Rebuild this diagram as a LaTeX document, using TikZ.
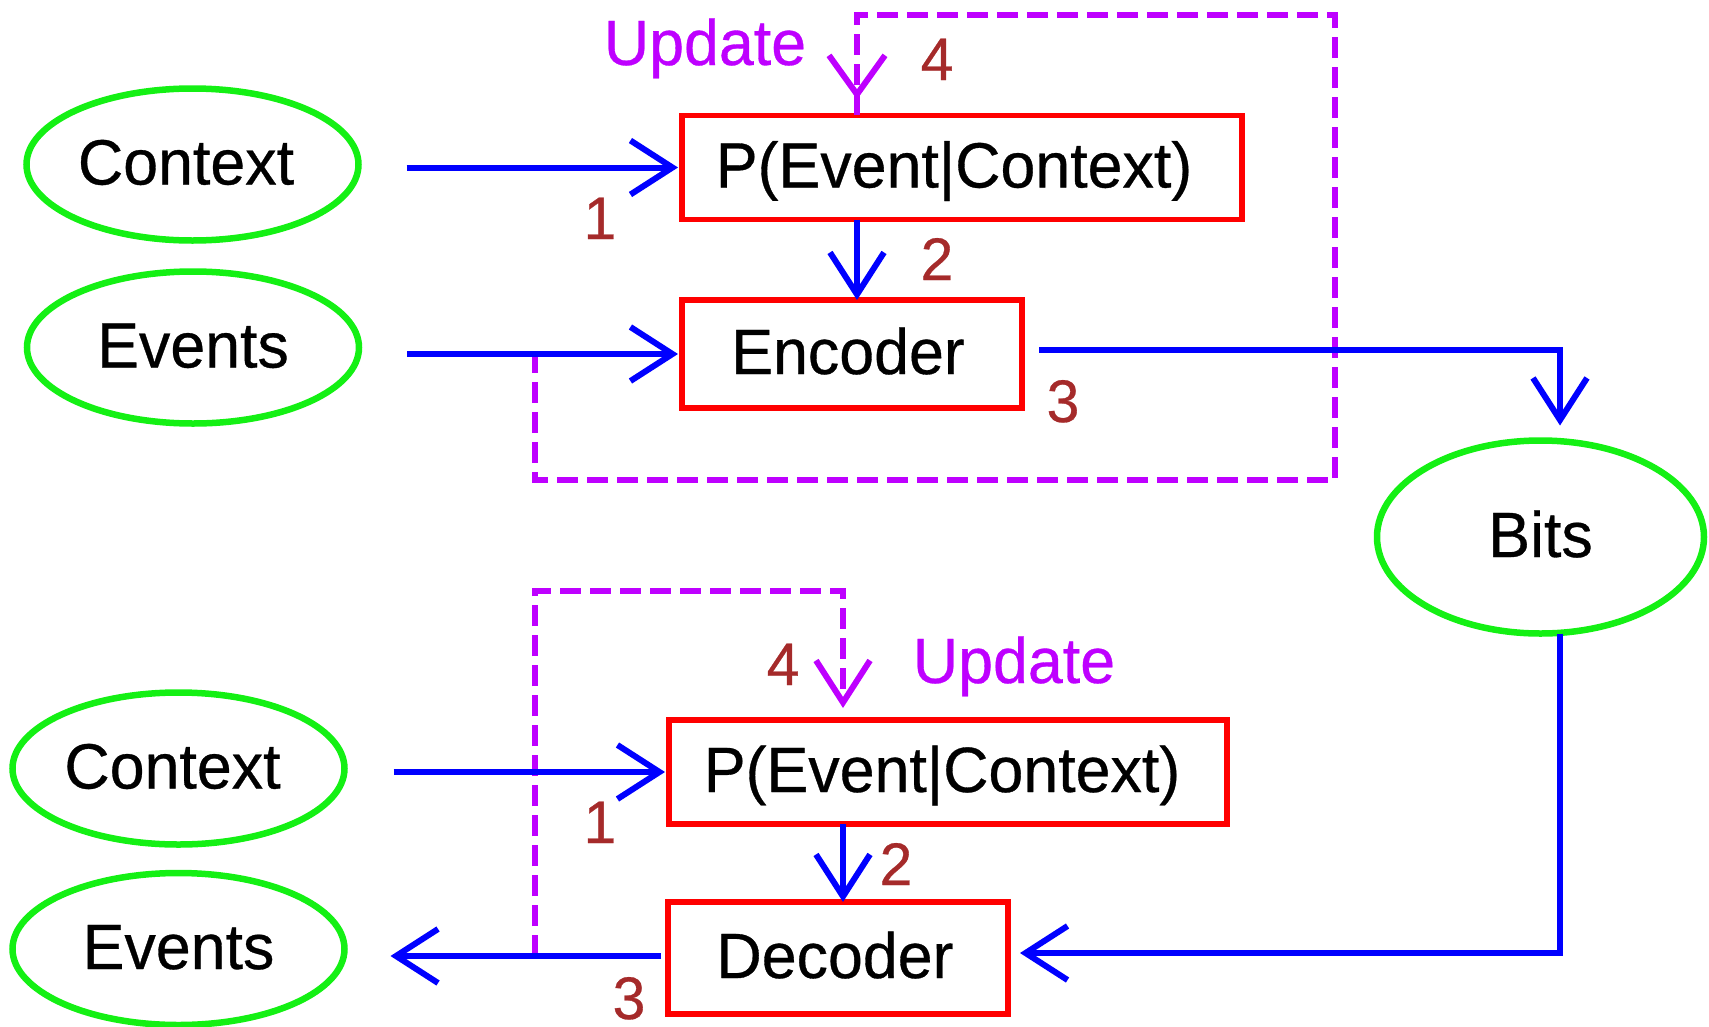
\documentclass[tikz,border=0pt]{standalone}
\usepackage{fontspec}
\setmainfont{Liberation Sans}[FakeStretch=0.98, FakeBold=0.5]
\usetikzlibrary{arrows.meta,shapes.geometric,decorations.markings}

\definecolor{ovalgreen}{RGB}{20,240,20}
\definecolor{boxred}{RGB}{255,0,0}
\definecolor{flowblue}{RGB}{0,0,255}
\definecolor{updviolet}{RGB}{190,0,255}
\definecolor{stepbrown}{RGB}{165,42,42}

% text followed by a little trailing room, to sit it slightly left of centre
\newcommand\txtleft[2]{#2\hspace*{#1pt}}

\tikzset{
  every node/.style={inner sep=0pt, outer sep=0pt},
  bigtext/.style={font=\fontsize{64}{70}\selectfont},
  oval/.style={ellipse, draw=ovalgreen, line width=6.5pt, bigtext,
    minimum width=332pt, minimum height=152pt, text height=40pt, text depth=0pt},
  blk/.style={rectangle, draw=boxred, line width=5.5pt, bigtext,
    text height=40pt, text depth=0pt},
  flow/.style={draw=flowblue, line width=6pt, -{Straight Barb[length=42pt 0, width=54pt 0]}},
  upd/.style={draw=updviolet, line width=6pt, dash pattern=on 21pt off 9pt},
  updtip/.style={-{Straight Barb[length=42pt 0, width=54pt 0]}},
  stepnum/.style={text=stepbrown, font=\fontsize{60}{66}\selectfont, anchor=base},
  updlabel/.style={text=updviolet, bigtext, anchor=base},
}

\begin{document}
\begin{tikzpicture}[x=1pt, y=-1pt]
\useasboundingbox (0,0) rectangle (1709,1026);

% ---------- encoder side ----------
\node[oval] (ctx1) at (192.5,164.5) {\txtleft{13}{Context}};
\node[oval] (evt1) at (193,347.5) {Events};
\node[blk, minimum width=560pt, minimum height=104pt] (prob1) at (962,167.5) {\txtleft{16}{P(Event|Context)}};
\node[blk, minimum width=340pt, minimum height=108pt] (enc) at (852,354) {\txtleft{8}{Encoder}};

% ---------- channel ----------
\node[oval, minimum width=327pt, minimum height=193pt] (bits) at (1540.5,537) {Bits};

% ---------- decoder side ----------
\node[oval] (ctx2) at (178.5,768.5) {\txtleft{12}{Context}};
\node[oval] (evt2) at (178.5,949) {Events};
\node[blk, minimum width=558pt, minimum height=104pt] (prob2) at (948,772) {\txtleft{12}{P(Event|Context)}};
\node[blk, minimum width=340pt, minimum height=112pt] (dec) at (838,958) {\txtleft{6}{Decoder}};

% columns and taps used by the connectors
\coordinate (colA) at (857,0);
\coordinate (colB) at (1560,0);
\coordinate (colC) at (843,0);
\coordinate (tapA) at (535,352);
\coordinate (tapB) at (535,956);

% ---------- model update loops (drawn first, under the flow lines) ----------
\draw[upd, postaction={decorate}, decoration={markings,
    mark=at position -16pt with {\arrow[solid, updviolet]{Straight Barb[length=39pt 0, width=56pt 0]}}}]
  (tapA) -- ++(0,128) -| (1335,15) -| (prob1.north -| colA);
\draw[upd, updtip, shorten >=12pt] (tapB) -- (535,591) -| (prob2.north -| colC);

% ---------- data flow ----------
\draw[flow, shorten <=48pt, shorten >=4pt] (prob1.west -| ctx1.east) -- (prob1.west);
\draw[flow, shorten <=48pt, shorten >=4pt] (enc.west -| evt1.east) -- (enc.west);
\draw[flow] (prob1.south -| colA) -- (enc.north -| colA);
\draw[flow, shorten <=17pt, shorten >=15pt] ([yshift=4pt]enc.east) -| (bits.north -| colB);
\draw[flow, shorten >=12pt] (bits.south -| colB) |- ([yshift=5pt]dec.east);

\draw[flow, shorten <=49pt, shorten >=4pt] (prob2.west -| ctx2.east) -- (prob2.west);
\draw[flow] (prob2.south -| colC) -- (dec.north -| colC);
\draw[flow, shorten <=7pt, shorten >=46pt] ([yshift=2pt]dec.west) -- ([yshift=2pt]dec.west -| evt2.east);

% ---------- labels ----------
\node[updlabel] (updA) at (705,65) {Update};
\node[updlabel] (updB) at (1014,683) {Update};

\node[stepnum] (s1a) at (600,239) {1};
\node[stepnum] (s2a) at (937,280) {2};
\node[stepnum] (s3a) at (1063,422) {3};
\node[stepnum] (s4a) at (937,80) {4};

\node[stepnum] (s1b) at (600,843) {1};
\node[stepnum] (s2b) at (896,885) {2};
\node[stepnum] (s3b) at (629,1019) {3};
\node[stepnum] (s4b) at (783,685) {4};
\end{tikzpicture}
\end{document}
